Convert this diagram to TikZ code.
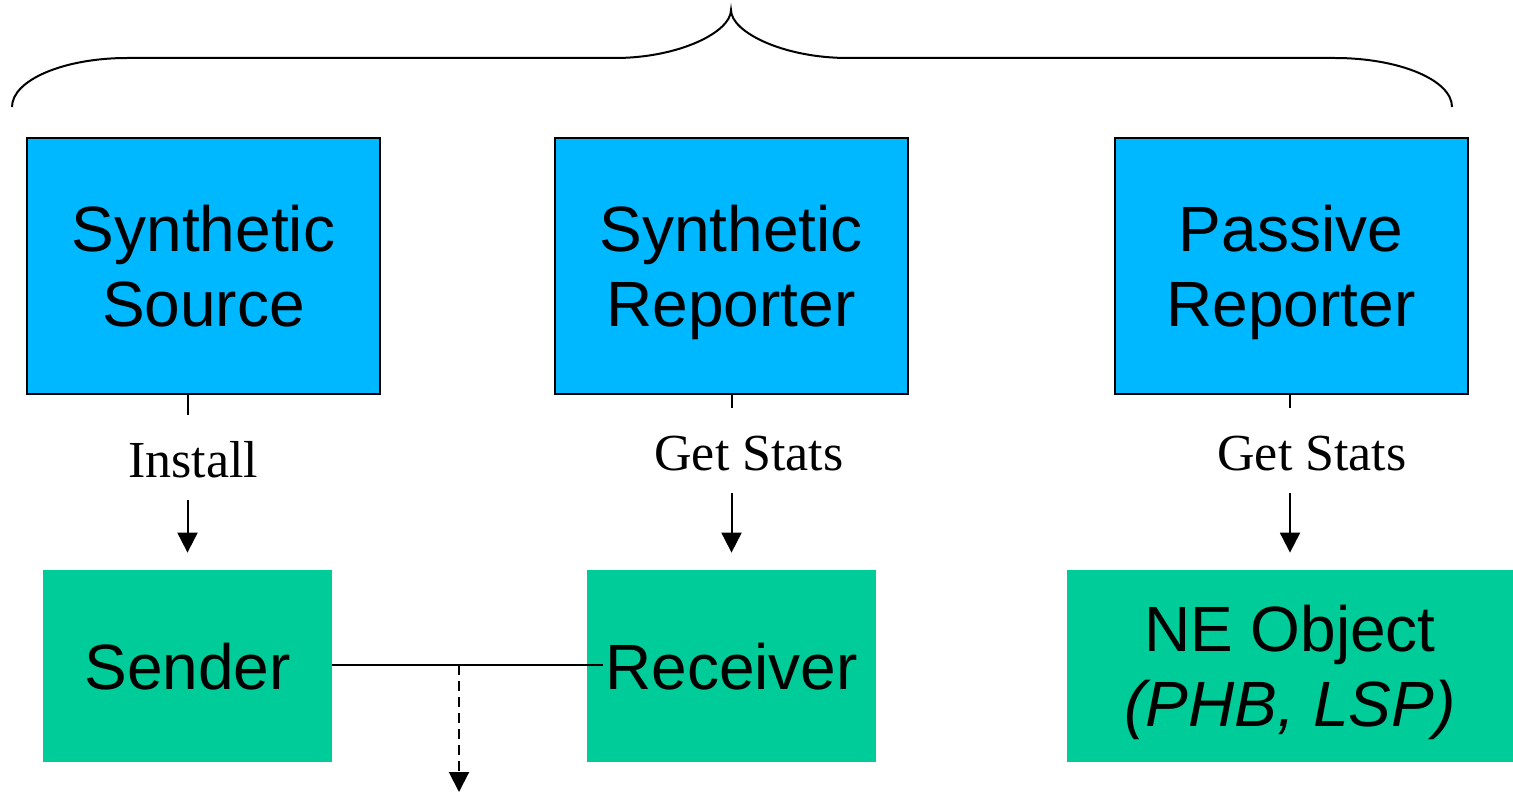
\documentclass[tikz,border=0pt]{standalone}
\usepackage{fontspec}
\setmainfont{Liberation Serif}
\setsansfont{Liberation Sans}
\usetikzlibrary{arrows.meta}
\definecolor{toolblue}{RGB}{0,184,255}
\definecolor{partgreen}{RGB}{0,204,153}

\begin{document}
\begin{tikzpicture}[x=0.5pt,y=-0.5pt,
    tool/.style={draw=black,line width=1pt,fill=toolblue,minimum width=176.5pt,minimum height=128pt,inner sep=0pt,text depth=0pt,align=center,font=\sffamily\fontsize{32}{37.5}\selectfont},
    part/.style={fill=partgreen,minimum height=96pt,inner sep=0pt,text depth=0pt,align=center,font=\sffamily\fontsize{32}{37.5}\selectfont},
    lbl/.style={anchor=base,inner sep=0pt,text height=31pt,text depth=11.5pt,font=\fontsize{26}{30}\selectfont},
    arr/.style={-{Triangle[width=10pt,length=10pt]},line width=1pt,shorten >=8.5pt}]
    \useasboundingbox (0,0) rectangle (1513,792);
    \node[tool] (ss) at (203.5,266) {Synthetic\\Source};
    \node[tool] (sr) at (731,266) {Synthetic\\Reporter};
    \node[tool] (pr) at (1291,266) {Passive\\Reporter};
    \node[part,minimum width=144.5pt] (snd) at (187.5,666) {Sender};
    \node[part,minimum width=144.5pt] (rcv) at (731.5,666) {Receiver};
    \node[part,minimum width=223pt] (ne) at (1290,666) {NE Object\\\textit{(PHB, LSP)}};
    \node[lbl] (inst) at (193,477) {Install};
    \node[lbl] (gs1) at (749,470) {Get Stats};
    \node[lbl] (gs2) at (1312,470) {Get Stats};
    \coordinate (tap) at (459,665);
    \coordinate (out) at (459,792);
    \draw[line width=1pt] (snd |- ss.south) -- (snd |- inst.north);
    \draw[arr] (snd |- inst.south) -- (snd);
    \draw[line width=1pt] (rcv |- sr.south) -- (rcv |- gs1.north);
    \draw[arr] (rcv |- gs1.south) -- (rcv);
    \draw[line width=1pt] (ne |- pr.south) -- (ne |- gs2.north);
    \draw[arr] (ne |- gs2.south) -- (ne);
    \draw[line width=1pt] (snd.east |- tap) -- ([xshift=8pt]rcv.west |- tap);
    \draw[arr,shorten >=0pt,dash pattern=on 5pt off 3pt] (tap) -- (out);
    \draw[line width=1pt] (12,107) .. controls (12,80) and (64,58) .. (127,58) -- (615,58)
        .. controls (679,58) and (731,32) .. (731,10)
        .. controls (731,32) and (783,58) .. (848,58) -- (1335,58)
        .. controls (1399,58) and (1452,80) .. (1452,107);
\end{tikzpicture}
\end{document}
